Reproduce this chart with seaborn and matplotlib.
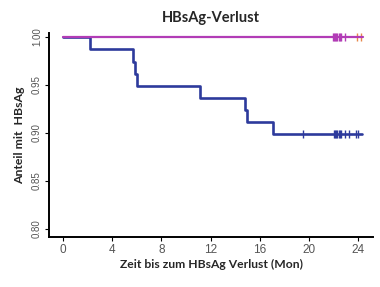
import seaborn as sns
import matplotlib.pyplot as plt
import pandas as pd

# Kaplan-Meier steps, blue group (time in months, proportion still HBsAg positive)
blueTimes = [0, 2.2, 5.7, 5.85, 6.0, 11.1, 14.8, 14.95, 17.1, 24.3]
blueSurv = [1.0, 0.987, 0.974, 0.961, 0.949, 0.936, 0.924, 0.911, 0.899, 0.899]
blueCensor = [19.5, 22.0, 22.1, 22.2, 22.3, 22.4, 22.5, 22.6, 22.9, 23.2, 23.8, 24.0]

# magenta group never loses HBsAg
magTimes = [0, 24.4]
magSurv = [1.0, 1.0]
magCensor = [21.9, 22.0, 22.1, 22.2, 22.3, 22.4, 22.5, 22.6, 22.9]
orangeCensor = [23.9, 24.2]

xTicks = [0, 4, 8, 12, 16, 20, 24]
yTicks = [0.80, 0.85, 0.90, 0.95, 1.00]

blueColor = '#2d3a9c'
magColor = '#b23cb6'
orangeColor = '#e8874a'

sns.set_style('ticks')
plt.rcParams['font.family'] = ['Liberation Sans', 'DejaVu Sans']

fig = plt.figure(figsize=(3.8, 2.87), dpi=100)
ax = fig.add_axes([0.129, 0.174, 0.853, 0.711])

blue = pd.DataFrame({'t': blueTimes, 's': blueSurv})
mag = pd.DataFrame({'t': magTimes, 's': magSurv})

sns.lineplot(x='t', y='s', data=blue, drawstyle='steps-post', color=blueColor, linewidth=1.9, ax=ax)
sns.lineplot(x='t', y='s', data=mag, drawstyle='steps-post', color=magColor, linewidth=1.6, ax=ax)

# censor ticks sit on the curve
bc = pd.DataFrame({'t': blueCensor, 's': [blueSurv[-1]] * len(blueCensor)})
mc = pd.DataFrame({'t': magCensor, 's': [1.0] * len(magCensor)})
oc = pd.DataFrame({'t': orangeCensor, 's': [1.0] * len(orangeCensor)})
sns.scatterplot(x='t', y='s', data=bc, marker='|', s=40, color=blueColor, linewidth=1.0, ax=ax)
sns.scatterplot(x='t', y='s', data=mc, marker='|', s=40, color=magColor, linewidth=1.0, ax=ax)
sns.scatterplot(x='t', y='s', data=oc, marker='|', s=40, color=orangeColor, linewidth=1.0, ax=ax)

ax.set_xlim(-1.14, 25.2)
ax.set_ylim(0.7917, 1.004)
ax.set_xticks(xTicks)
ax.set_yticks(yTicks)
ax.set_xticklabels([str(x) for x in xTicks], fontsize=8.5, color='#555555')
ax.set_yticklabels(['%.2f' % y for y in yTicks], fontsize=7, color='#555555',
                   rotation=90, va='center')
ax.tick_params(axis='both', length=3, width=0.8, color='black', pad=2)

sns.despine(ax=ax)
for side in ['left', 'bottom']:
    ax.spines[side].set_linewidth(1.4)
    ax.spines[side].set_color('black')

ax.set_xlabel('Zeit bis zum HBsAg Verlust (Mon)', fontsize=8.7, fontweight='bold',
              family=['Lato', 'DejaVu Sans'], labelpad=2)
ax.set_ylabel('Anteil mit  HBsAg', fontsize=8.8, fontweight='bold',
              family=['Lato', 'DejaVu Sans'], labelpad=5)
ax.set_title('HBsAg-Verlust', fontsize=10.5, fontweight='bold',
             family=['Lato', 'DejaVu Sans'], pad=8)

plt.savefig('out.png', dpi=100)
